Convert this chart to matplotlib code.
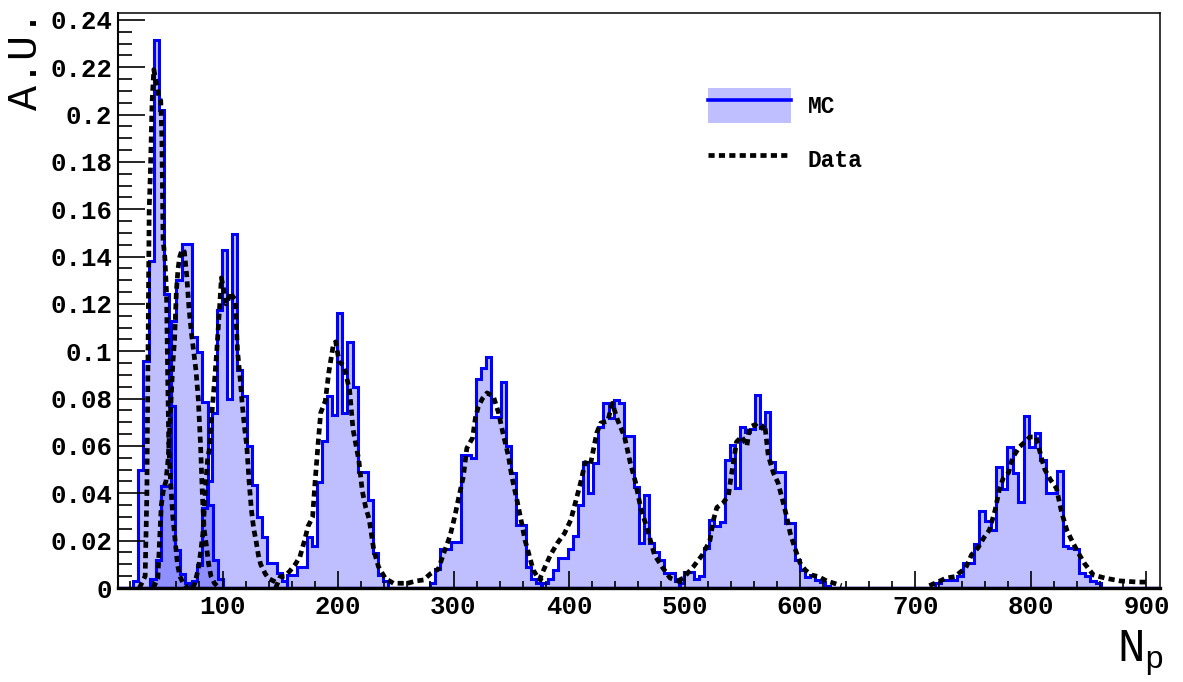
import numpy as np
import matplotlib.pyplot as plt
from matplotlib.patches import Patch
from matplotlib.lines import Line2D
from matplotlib.ticker import FixedLocator, MultipleLocator

plt.rcParams['font.family'] = ['Liberation Mono', 'DejaVu Sans Mono']
plt.rcParams['font.weight'] = 'bold'

# frame range
x_lo, x_hi = 9.5, 911.7
y_hi = 0.2429

x_ticks = [100, 200, 300, 400, 500, 600, 700, 800, 900]
x_labels = ['100', '200', '300', '400', '500', '600', '700', '800', '900']
y_ticks = [0, 0.02, 0.04, 0.06, 0.08, 0.1, 0.12, 0.14, 0.16, 0.18, 0.2, 0.22, 0.24]
y_labels = ['0', '0.02', '0.04', '0.06', '0.08', '0.1', '0.12', '0.14',
            '0.16', '0.18', '0.2', '0.22', '0.24']

# MC histograms : first bin edge, bin width, bin contents
mc_start = [22.5, 37.5, 73.7, 156.0, 280.0, 377.0, 495.5, 717.0]
mc_width = [4.5, 4.5, 4.33, 4.35, 4.35, 4.4, 4.35, 4.8]
mc_40 = [0.003, 0.050, 0.096, 0.138, 0.2315, 0.202, 0.124, 0.077, 0.016, 0.006, 0.002]
mc_65 = [0.004, 0.012, 0.043, 0.043, 0.113, 0.130, 0.1455, 0.1455, 0.106, 0.0997,
         0.0786, 0.035, 0.012, 0.004]
mc_105 = [0.003, 0.0097, 0.034, 0.045, 0.074, 0.1175, 0.1428, 0.080, 0.1494, 0.092,
          0.081, 0.060, 0.0435, 0.030, 0.0217, 0.0105, 0.0105, 0.0063, 0.003]
mc_200 = [0.0055, 0.0055, 0.009, 0.009, 0.0214, 0.0177, 0.0449, 0.062, 0.081, 0.073,
          0.1163, 0.074, 0.104, 0.085, 0.049, 0.049, 0.037, 0.0148, 0.0055, 0.003]
mc_330 = [0.002, 0.008, 0.0163, 0.0163, 0.0196, 0.0196, 0.0562, 0.0562, 0.055, 0.0882,
          0.0928, 0.0975, 0.0721, 0.0721, 0.0872, 0.060, 0.0485, 0.0266, 0.0266, 0.009,
          0.004, 0.002]
mc_440 = [0.002, 0.004, 0.0078, 0.0125, 0.0125, 0.0165, 0.022, 0.035, 0.0534, 0.040,
          0.053, 0.068, 0.0783, 0.072, 0.0794, 0.078, 0.0642, 0.0642, 0.0428, 0.0189,
          0.0393, 0.0189, 0.015, 0.0118, 0.0062, 0.0062, 0.003]
mc_560 = [0.002, 0.0069, 0.0069, 0.004, 0.005, 0.0168, 0.0287, 0.026, 0.028, 0.054,
          0.0604, 0.0421, 0.0681, 0.066, 0.067, 0.0815, 0.0675, 0.0745, 0.0534, 0.049,
          0.049, 0.0273, 0.0273, 0.0118, 0.0076, 0.0045, 0.0055, 0.0035, 0.0025, 0.001]
mc_800 = [0.002, 0.0035, 0.0035, 0.0035, 0.005, 0.0104, 0.0104, 0.0186, 0.0327, 0.0284,
          0.0245, 0.0513, 0.0417, 0.0594, 0.0485, 0.0365, 0.0727, 0.0597, 0.0654, 0.054,
          0.040, 0.040, 0.0494, 0.0177, 0.017, 0.0163, 0.0062, 0.005, 0.003, 0.002]
mc_all = [mc_40, mc_65, mc_105, mc_200, mc_330, mc_440, mc_560, mc_800]

# Data
data_x_40 = [28, 33, 34.5, 35.5, 36.5, 37.5, 39, 40.5, 42, 43.5, 45, 46.5, 47.5, 48.5, 50,
             51.5, 52.5, 53.5, 55, 57, 59, 61, 63, 66, 70]
data_y_40 = [0, 0.005, 0.04, 0.10, 0.16, 0.175, 0.205, 0.219, 0.215, 0.212, 0.207, 0.206,
             0.19, 0.147, 0.140, 0.125, 0.09, 0.06, 0.045, 0.03, 0.02, 0.01, 0.005, 0.002, 0]
data_x_65 = [40, 44, 45.5, 47, 49, 51, 53, 55, 57, 58.5, 60, 61.5, 63, 65, 67, 69, 71, 73,
             75, 77, 79, 81, 82.5, 84, 86, 88, 90, 93, 97]
data_y_65 = [0, 0.004, 0.02, 0.035, 0.042, 0.045, 0.055, 0.075, 0.095, 0.105, 0.125, 0.135,
             0.140, 0.143, 0.142, 0.132, 0.118, 0.108, 0.100, 0.092, 0.080, 0.060, 0.040,
             0.025, 0.018, 0.010, 0.005, 0.002, 0]
data_x_105 = [74, 76, 79, 81, 83, 85, 87, 89, 91, 93, 95, 97, 99, 101, 103, 105, 107, 109,
              111, 113, 115, 117, 119, 121, 123, 125, 127, 129, 131, 133, 135, 137, 140,
              144, 148]
data_y_105 = [0, 0.002, 0.008, 0.015, 0.023, 0.040, 0.054, 0.060, 0.075, 0.087, 0.100,
              0.115, 0.131, 0.126, 0.120, 0.122, 0.125, 0.123, 0.122, 0.100, 0.090, 0.078,
              0.068, 0.060, 0.045, 0.033, 0.025, 0.020, 0.014, 0.010, 0.008, 0.006, 0.004,
              0.003, 0.002]
data_x_200 = [146, 150, 154, 158, 163, 167, 171, 174, 178, 180, 183, 185, 189, 192, 196, 198,
              201, 205, 210, 213, 218, 221, 224, 227, 231, 235, 241, 248, 254, 260]
data_y_200 = [0, 0.0048, 0.005, 0.007, 0.010, 0.0132, 0.020, 0.026, 0.030, 0.044, 0.0625,
              0.074, 0.079, 0.091, 0.103, 0.104, 0.0955, 0.094, 0.0837, 0.067, 0.054, 0.041,
              0.034, 0.029, 0.016, 0.009, 0.004, 0.002, 0.002, 0.002]
data_x_330 = [260, 268, 274, 280, 287, 291, 297, 301, 304, 308.5, 311.5, 316.5, 319, 321.5,
              325, 329, 334.5, 339, 343, 347.5, 350.5, 355, 359, 362, 365, 369, 373.5, 377]
data_y_330 = [0.002, 0.003, 0.0034, 0.006, 0.008, 0.014, 0.022, 0.030, 0.037, 0.047, 0.059,
              0.0634, 0.072, 0.0766, 0.080, 0.0824, 0.081, 0.074, 0.065, 0.0558, 0.047,
              0.037, 0.0274, 0.020, 0.0148, 0.0076, 0.004, 0.003]
data_x_440 = [374, 378, 384, 390, 396, 401.5, 405.5, 410, 414, 418.5, 424, 427.5, 433.5,
              437.5, 442, 448, 453, 457.5, 462, 468, 474, 480.5, 487.5, 494, 500]
data_y_440 = [0.003, 0.0076, 0.014, 0.019, 0.023, 0.0287, 0.036, 0.0444, 0.053, 0.052,
              0.0655, 0.0697, 0.0705, 0.078, 0.071, 0.064, 0.053, 0.0448, 0.034, 0.0245,
              0.014, 0.009, 0.0042, 0.003, 0.002]
data_x_560 = [494, 499, 507.5, 515.5, 522, 525, 528, 533.5, 538, 540, 543, 545, 549.5, 554,
              556.5, 561, 565.5, 569.5, 572.5, 577, 581, 585.5, 588.5, 591.5, 595.5, 600,
              604.5, 610, 616, 623, 629.5, 636]
data_y_560 = [0.003, 0.0042, 0.0089, 0.014, 0.020, 0.0287, 0.034, 0.036, 0.039, 0.046,
              0.055, 0.0617, 0.064, 0.060, 0.068, 0.069, 0.067, 0.069, 0.056, 0.0486, 0.0444,
              0.036, 0.030, 0.0232, 0.0169, 0.0106, 0.0076, 0.0055, 0.0048, 0.003, 0.002,
              0.001]
data_x_800 = [712, 720, 726.5, 734, 743.5, 748.5, 754, 759.5, 764, 769, 772.5, 776, 780.5,
              784, 790, 795, 799, 804.5, 809, 812, 817, 822, 826.5, 831, 836, 841, 846, 854,
              864, 877, 893, 900]
data_y_800 = [0.001, 0.0027, 0.0042, 0.0048, 0.0085, 0.014, 0.0169, 0.0215, 0.0245, 0.033,
              0.0414, 0.0465, 0.0486, 0.055, 0.0596, 0.0618, 0.0638, 0.0638, 0.055, 0.050,
              0.0456, 0.0422, 0.032, 0.0245, 0.0194, 0.0148, 0.0106, 0.0055, 0.0042, 0.003,
              0.0025, 0.0025]
data_x_all = [data_x_40, data_x_65, data_x_105, data_x_200, data_x_330, data_x_440,
              data_x_560, data_x_800]
data_y_all = [data_y_40, data_y_65, data_y_105, data_y_200, data_y_330, data_y_440,
              data_y_560, data_y_800]

fill_c = (0, 0, 1, 0.25)
line_c = (0, 0, 1)
dots = (0, (1.3, 0.9))

fig = plt.figure(figsize=(11.83, 6.82), dpi=100)
ax = fig.add_axes([118/1183, 1-588/682, 1042/1183, 575/682])

for start, w, vals in zip(mc_start, mc_width, mc_all):
    edges = np.concatenate([[x_lo], start + w*np.arange(len(vals)+1), [x_hi]])
    h = np.concatenate([[0], vals, [0]])
    ax.stairs(h, edges, fill=True, color=fill_c, lw=0)
    ax.stairs(h, edges, color=line_c, lw=2.2)

for xs, ys in zip(data_x_all, data_y_all):
    ax.plot(xs, ys, color='black', lw=3.4, ls=dots)

ax.set_xlim(x_lo, x_hi)
ax.set_ylim(0, y_hi)

ax.xaxis.set_major_locator(FixedLocator(x_ticks))
ax.set_xticklabels(x_labels)
ax.xaxis.set_minor_locator(MultipleLocator(20))
ax.yaxis.set_major_locator(FixedLocator(y_ticks))
ax.set_yticklabels(y_labels)
ax.yaxis.set_minor_locator(MultipleLocator(0.005))

ax.tick_params(which='both', direction='in', top=False, right=False, width=1.2,
               labelsize=18.5)
ax.tick_params(axis='x', which='major', length=12, pad=5)
ax.tick_params(axis='x', which='minor', length=5)
ax.tick_params(axis='y', which='major', length=19.5, pad=4)
ax.tick_params(axis='y', which='minor', length=10)

for s in ['top', 'right']:
    ax.spines[s].set_linewidth(1.1)
ax.spines['left'].set_linewidth(1.5)
ax.spines['bottom'].set_linewidth(2.4)

fig.text(26/1183, 1-10/682, 'A.U.', rotation=90, ha='center', va='top',
         fontsize=30, fontweight='normal')
fig.text(1164/1183, 1-662/682, r'$\mathregular{N_p}$', ha='right', va='baseline',
         fontsize=33, fontweight='normal')

handles = [(Patch(facecolor=fill_c, edgecolor='none'), Line2D([], [], color=line_c, lw=2.6)),
           Line2D([], [], color='black', lw=3.4, ls=dots)]
ax.legend(handles, ['MC', 'Data'], loc='upper left', frameon=False,
          bbox_to_anchor=(708/1183, 1-88/682), bbox_transform=fig.transFigure,
          prop={'size': 16.5, 'weight': 'bold'}, borderpad=0, handlelength=3.6,
          handleheight=2.0, labelspacing=0.82, handletextpad=0.75, borderaxespad=0)

fig.savefig('out.png', dpi=100)
